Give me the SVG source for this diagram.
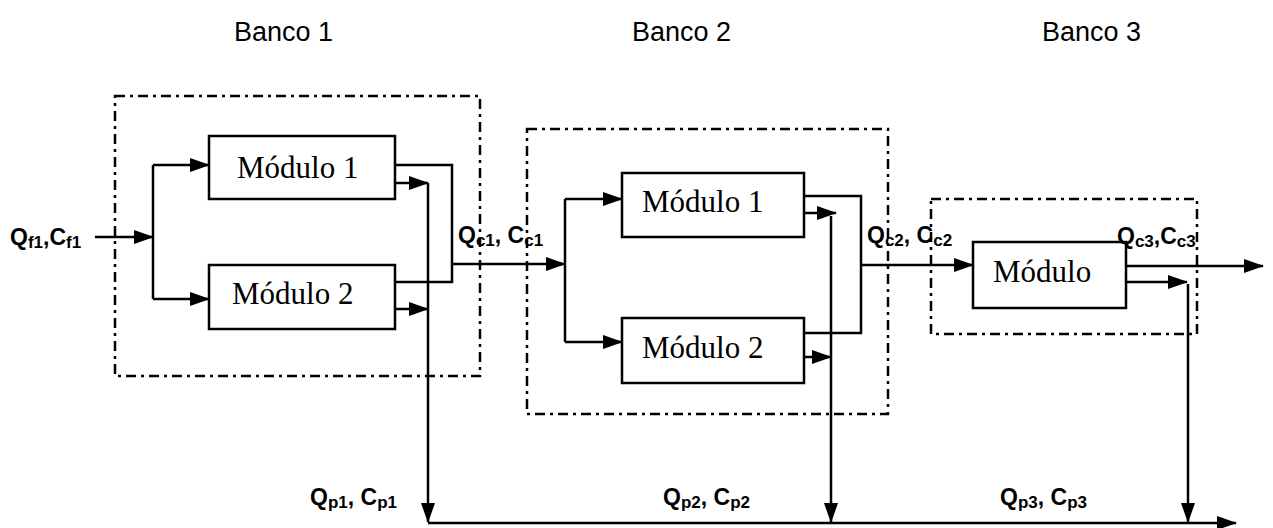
<svg xmlns="http://www.w3.org/2000/svg" width="1273" height="528" viewBox="0 0 1273 528">
<style>
  .bank { fill: none; stroke: #000; stroke-width: 2.5; stroke-dasharray: 10 5 3 5; }
  .mod { fill: #fff; stroke: #000; stroke-width: 2.5; }
  .mtxt { font-family: "Liberation Serif", "Times New Roman", serif; font-size: 31px; fill: #000; }
  .title { font-family: "Liberation Sans", Arial, sans-serif; font-size: 27px; fill: #000; }
  .lbl { font-family: "Liberation Sans", Arial, sans-serif; font-size: 23px; font-weight: bold; fill: #000; }
  .sub { font-size: 17px; }
  .ln { fill: none; stroke: #000; stroke-width: 2.5; }
  .ar { fill: none; stroke: #000; stroke-width: 2.5; marker-end: url(#ah); }
</style>
<defs>
  <marker id="ah" markerUnits="userSpaceOnUse" markerWidth="20" markerHeight="14" viewBox="0 0 20 14" refX="19" refY="7" orient="auto">
    <path d="M0,0 L20,7 L0,14 Z" fill="#000"/>
  </marker>
</defs>
<rect width="1273" height="528" fill="#fff"/>

<g id="titles">
  <text class="title" x="234" y="41">Banco 1</text>
  <text class="title" x="632" y="41">Banco 2</text>
  <text class="title" x="1042" y="41">Banco 3</text>
</g>

<g id="banco1"><rect class="bank" x="115" y="96" width="365" height="280"/></g>
<g id="banco2"><rect class="bank" x="527" y="129" width="361" height="285"/></g>
<g id="banco3"><rect class="bank" x="931" y="199" width="266" height="135"/></g>

<g id="connectors">
  <!-- bank 1 -->
  <line class="ar" x1="95" y1="237" x2="153" y2="237"/>
  <line class="ln" x1="153" y1="165" x2="153" y2="299"/>
  <line class="ar" x1="153" y1="165" x2="209" y2="165"/>
  <line class="ar" x1="153" y1="299" x2="209" y2="299"/>
  <polyline class="ln" points="395,165 452,165 452,282 395,282"/>
  <line class="ar" x1="452" y1="264" x2="565" y2="264"/>
  <line class="ar" x1="395" y1="183" x2="428" y2="183"/>
  <line class="ar" x1="395" y1="309" x2="428" y2="309"/>
  <line class="ar" x1="428" y1="183" x2="428" y2="522"/>
  <!-- bank 2 -->
  <line class="ln" x1="565" y1="199" x2="565" y2="342"/>
  <line class="ar" x1="565" y1="199" x2="622" y2="199"/>
  <line class="ar" x1="565" y1="342" x2="622" y2="342"/>
  <polyline class="ln" points="804,196 861,196 861,333 804,333"/>
  <line class="ar" x1="861" y1="265" x2="973" y2="265"/>
  <line class="ar" x1="804" y1="213" x2="836" y2="213"/>
  <line class="ar" x1="804" y1="357" x2="831" y2="357"/>
  <line class="ar" x1="831" y1="216" x2="831" y2="522"/>
  <!-- bank 3 -->
  <line class="ar" x1="1126" y1="266" x2="1263" y2="266"/>
  <line class="ar" x1="1126" y1="282" x2="1187" y2="282"/>
  <line class="ar" x1="1188" y1="284" x2="1188" y2="522"/>
  <!-- permeate collector -->
  <line class="ar" x1="428" y1="523" x2="1236" y2="523"/>
</g>

<g id="b1m1"><rect class="mod" x="209" y="136" width="186" height="63"/><text class="mtxt" x="237" y="178">Módulo 1</text></g>
<g id="b1m2"><rect class="mod" x="209" y="265" width="186" height="64"/><text class="mtxt" x="232" y="304">Módulo 2</text></g>
<g id="b2m1"><rect class="mod" x="622" y="173" width="182" height="64"/><text class="mtxt" x="642" y="212">Módulo 1</text></g>
<g id="b2m2"><rect class="mod" x="622" y="318" width="182" height="65"/><text class="mtxt" x="642" y="358">Módulo 2</text></g>
<g id="b3m"><rect class="mod" x="973" y="242" width="153" height="66"/><text class="mtxt" x="993" y="282">Módulo</text></g>

<g id="labels">
  <text class="lbl" x="10" y="245">Q<tspan class="sub" dy="3">f1</tspan><tspan dy="-3">,C</tspan><tspan class="sub" dy="3">f1</tspan></text>
  <text class="lbl" x="458" y="243">Q<tspan class="sub" dy="3">c1</tspan><tspan dy="-3">, C</tspan><tspan class="sub" dy="3">c1</tspan></text>
  <text class="lbl" x="867" y="243">Q<tspan class="sub" dy="3">c2</tspan><tspan dy="-3">, C</tspan><tspan class="sub" dy="3">c2</tspan></text>
  <text class="lbl" x="1117" y="244">Q<tspan class="sub" dy="3">c3</tspan><tspan dy="-3">,C</tspan><tspan class="sub" dy="3">c3</tspan></text>
  <text class="lbl" x="310" y="505">Q<tspan class="sub" dy="3">p1</tspan><tspan dy="-3">, C</tspan><tspan class="sub" dy="3">p1</tspan></text>
  <text class="lbl" x="663" y="505">Q<tspan class="sub" dy="3">p2</tspan><tspan dy="-3">, C</tspan><tspan class="sub" dy="3">p2</tspan></text>
  <text class="lbl" x="1000" y="505">Q<tspan class="sub" dy="3">p3</tspan><tspan dy="-3">, C</tspan><tspan class="sub" dy="3">p3</tspan></text>
</g>
</svg>
